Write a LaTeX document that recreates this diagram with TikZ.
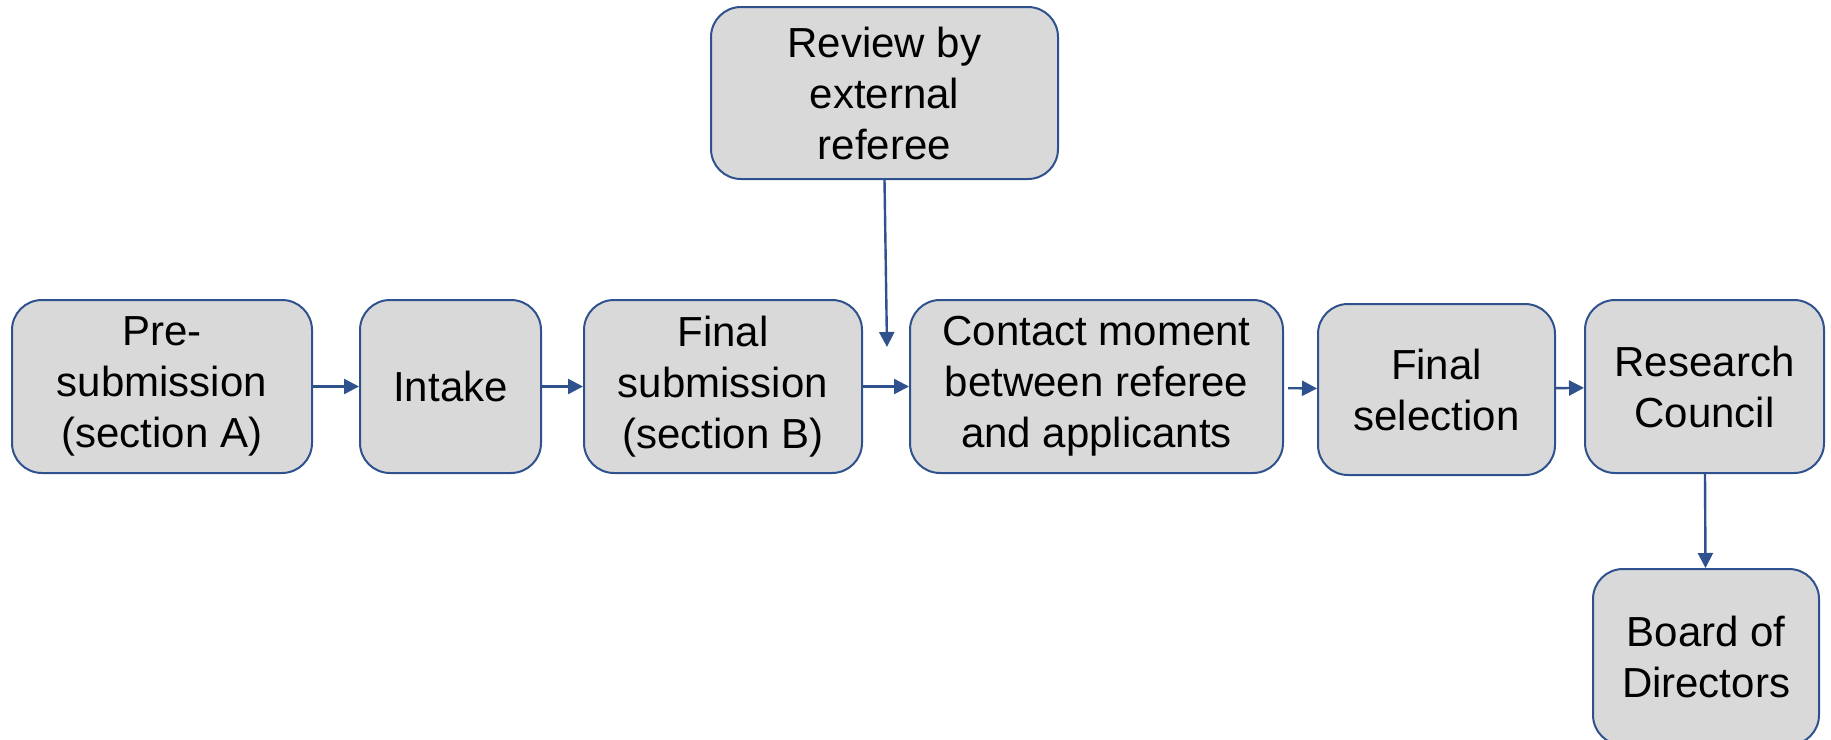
\documentclass[tikz,border=0pt]{standalone}
\usepackage{fontspec}
\setmainfont{Liberation Sans}
\usepackage{xcolor}
\usepackage{tikz}
\usetikzlibrary{arrows.meta}
\definecolor{bluex}{HTML}{2F528F}
\definecolor{greyx}{HTML}{D9D9D9}
\tikzset{
  ar/.style={-{Triangle[length=7.5pt,width=7.5pt]},line width=1.2pt,bluex},
  box/.style={draw=bluex,line width=1pt,rounded corners=15pt,fill=greyx,align=center,inner sep=0pt,
    font=\fontsize{21pt}{25.5pt}\selectfont}
}
\begin{document}
\begin{tikzpicture}[x=0.5pt,y=-0.5pt]
\clip (0,0) rectangle (1831,739);
\node[box,minimum width=150pt,minimum height=86.5pt] (pre) at (162,386.5) {Pre-\\submission\\(section A)};
\node[box,minimum width=90.5pt,minimum height=86.5pt] (intake) at (450.5,386.5) {Intake};
\node[box,minimum width=139pt,minimum height=86.5pt] (finalsub) at (723,386.5) {Final\\submission\\(section B)};
\node[box,minimum width=186.5pt,minimum height=86.5pt] (contact) at (1096.5,386.5) {Contact moment\\between referee\\and applicants};
\node[box,minimum width=118.5pt,minimum height=85.5pt] (finalsel) at (1436.5,389.5) {Final\\selection};
\node[box,minimum width=119.5pt,minimum height=86.5pt] (council) at (1704.5,386.5) {Research\\Council};
\node[box,minimum width=173.5pt,minimum height=86pt] (review) at (884.5,93) {Review by\\external\\referee};
\node[box,minimum width=113pt,minimum height=88pt] (board) at (1706,657) {Board of\\Directors};
\coordinate (revend) at (887,347);
\draw[ar] (pre) -- (intake);
\draw[ar] (intake) -- (finalsub);
\draw[ar] (finalsub) -- (contact);
\draw[ar,shorten <=2pt] (contact) -- (finalsel);
\draw[ar] (finalsel) -- (council);
\draw[ar] (review.south) -- (revend);
\draw[ar] (council) -- (board);
\end{tikzpicture}
\end{document}
